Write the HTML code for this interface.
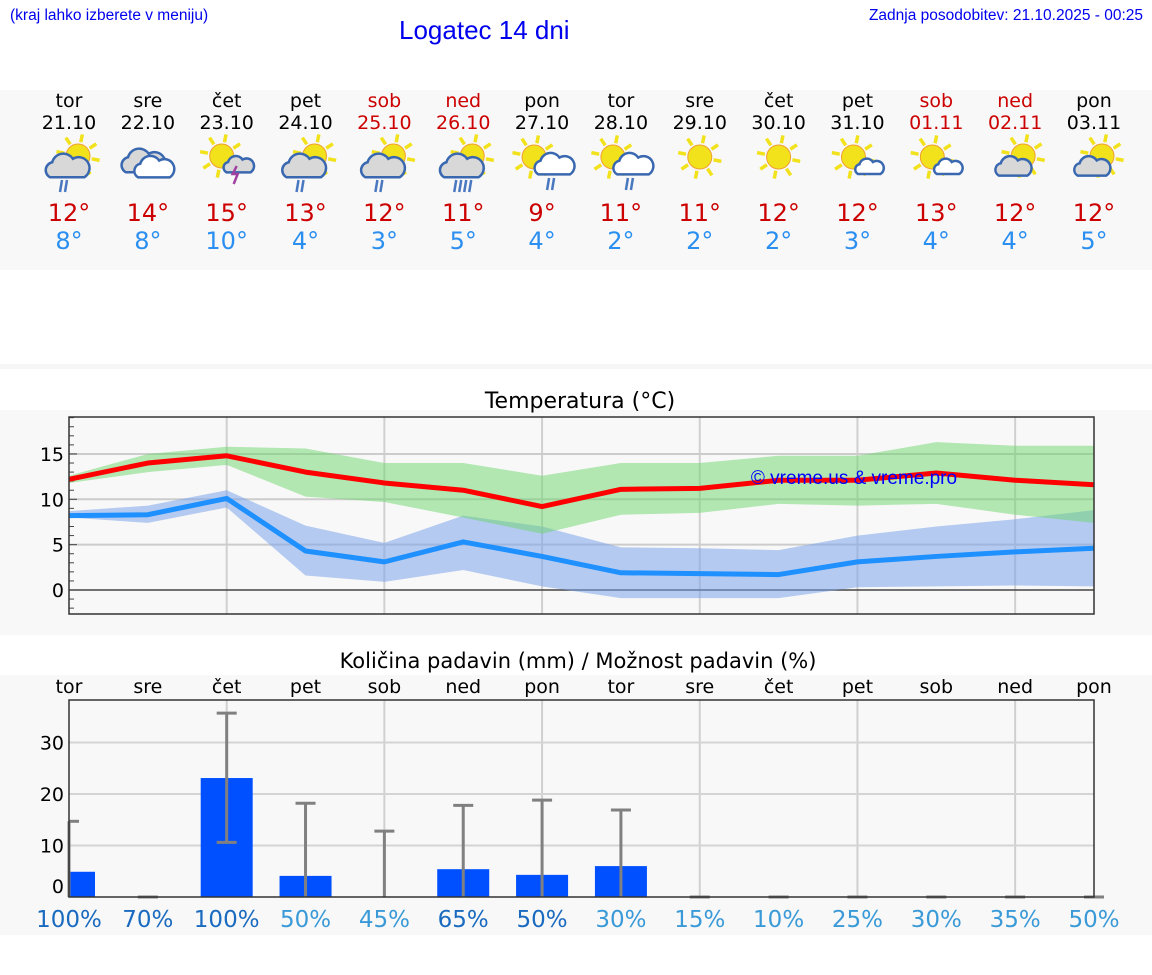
<!DOCTYPE html>
<html><head><meta charset="utf-8"><style>
body{margin:0;width:1152px;height:975px;background:#fff;font-family:"DejaVu Sans","Liberation Sans",sans-serif;overflow:hidden;position:relative}
.t{position:absolute;white-space:nowrap}
</style></head><body>
<div class="t" style="left:10px;top:7px;font-size:15.5px;color:#0000ee;font-family:'Liberation Sans',sans-serif">(kraj lahko izberete v meniju)</div>
<div class="t" style="left:399px;top:15px;font-size:26px;color:#0000ee;font-family:'Liberation Sans',sans-serif">Logatec 14 dni</div>
<div class="t" style="right:9px;top:7px;font-size:15.5px;color:#0000ee;font-family:'Liberation Sans',sans-serif">Zadnja posodobitev: 21.10.2025 - 00:25</div>
<svg id="s" width="1152" height="975" style="position:absolute;left:0;top:0" xmlns="http://www.w3.org/2000/svg" font-family="DejaVu Sans, Liberation Sans, sans-serif">
<rect x="0" y="90" width="1152" height="180" fill="#f8f8f8"/>
<rect x="0" y="364" width="1152" height="5" fill="#f6f6f6"/>
<rect x="0" y="410" width="1152" height="225" fill="#f8f8f8"/>
<rect x="0" y="675" width="1152" height="260" fill="#f8f8f8"/>
<text x="580" y="408" font-size="22" text-anchor="middle" fill="#000">Temperatura (°C)</text>
<text x="578" y="668" font-size="21" text-anchor="middle" fill="#000">Količina padavin (mm) / Možnost padavin (%)</text>
<g id="g"></g>
</svg>
<script>
const days=['tor','sre','čet','pet','sob','ned','pon','tor','sre','čet','pet','sob','ned','pon'];
const dates=['21.10','22.10','23.10','24.10','25.10','26.10','27.10','28.10','29.10','30.10','31.10','01.11','02.11','03.11'];
const weekend=[0,0,0,0,1,1,0,0,0,0,0,1,1,0];
const highs=[12,14,15,13,12,11,9,11,11,12,12,13,12,12];
const lows=[8,8,10,4,3,5,4,2,2,2,3,4,4,5];
const icons=['scr','cc','sl','scr','scr','scr4','swr','swr','s','s','sc','sc','sgc','sgc'];
const tMax=[12.2,14,14.8,13,11.8,11,9.2,11.1,11.2,12.1,12.1,12.9,12.1,11.6];
const tMaxHi=[12.6,15,15.8,15.6,14,14,12.6,14,14,14.8,14.8,16.3,15.9,15.9];
const tMaxLo=[11.8,13,13.8,10.3,9.7,8,6.2,8.3,8.5,9.5,9.3,9.5,8.3,7.4];
const tMin=[8.2,8.3,10.1,4.3,3.1,5.3,3.7,1.9,1.8,1.7,3.1,3.7,4.2,4.6];
const tMinHi=[8.7,9.3,11,7.1,5.2,8.2,7,4.7,4.6,4.4,6,7,7.8,8.8];
const tMinLo=[8,7.4,9.1,1.6,0.9,2.2,0.4,-0.9,-0.9,-0.9,0.3,0.4,0.5,0.4];
const tTicks=[0,5,10,15];
const rain=[4.9,0,23.1,4.1,0,5.4,4.3,6,0,0,0,0,0,0];
const rainLo=[0,0,10.6,0,0,0,0,0,0,0,0,0,0,0];
const rainHi=[14.7,0,35.7,18.2,12.8,17.8,18.8,16.9,0,0,0,0,0,0];
const rainTicks=[0,10,20,30];
const prob=[100,70,100,50,45,65,50,30,15,10,25,30,35,50];
const probDark=[1,1,1,0,0,1,1,0,0,0,0,0,0,0];

const NS='http://www.w3.org/2000/svg',G=document.getElementById('g');
function el(tag,a,p){const e=document.createElementNS(NS,tag);for(const k in a)e.setAttribute(k,a[k]);(p||G).appendChild(e);return e}
const X0=69,X1=1094,step=(X1-X0)/13;
const xs=i=>X0+i*step;
const yT=v=>590-v*9.07;
const yR=v=>897-v*5.15;

function sun(g,cx,cy,r){for(let k=0;k<8;k++){const a=k*Math.PI/4+0.2;el('line',{x1:cx+Math.cos(a)*(r+2),y1:cy+Math.sin(a)*(r+2),x2:cx+Math.cos(a)*(r+10),y2:cy+Math.sin(a)*(r+10),stroke:'#f2e21c','stroke-width':3.5},g)}el('circle',{cx,cy,r,fill:'#f2e21c',stroke:'#f0a030','stroke-width':1},g)}
function cloud(g,cx,cy,s,fill){const d=`M${cx-14*s} ${cy+8*s} a${7*s} ${7*s} 0 0 1 ${2*s} ${-13*s} a${10*s} ${10*s} 0 0 1 ${18*s} ${-3*s} a${8*s} ${8*s} 0 0 1 ${10*s} ${16*s} Z`;el('path',{d,fill,stroke:'#3a68b0','stroke-width':2.5},g)}
function drops(g,cx,cy,n){for(let k=0;k<n;k++)el('line',{x1:cx+k*5+2,y1:cy,x2:cx+k*5,y2:cy+12,stroke:'#4a78c0','stroke-width':2.5},g)}
for(let i=0;i<14;i++){
  const x=xs(i),col=weekend[i]?'#cc0000':'#000';
  const g=el('g',{});
  
  
  el('text',{x,y:107,'font-size':19,'text-anchor':'middle',fill:col},g).textContent=days[i];
  el('text',{x,y:129,'font-size':19,'text-anchor':'middle',fill:col},g).textContent=dates[i];
  const t=icons[i],cy=160;
  if(t==='scr'||t==='scr4'){sun(g,x+9,cy-4,12);cloud(g,x-3,cy+8,1.15,'#d8d8d8');drops(g,x-9,cy+20,t==='scr4'?4:2)}
  else if(t==='cc'){cloud(g,x-6,cy+3,1.15,'#d8d8d8');cloud(g,x+5,cy+9,1.05,'#fff')}
  else if(t==='sl'){sun(g,x-5,cy-4,12);cloud(g,x+11,cy+6,0.8,'#d8d8d8');el('path',{d:`M${x+10} ${cy+6} l-4 8 h5 l-4 10`,fill:'none',stroke:'#a040a0','stroke-width':2.5},g)}
  else if(t==='swr'){sun(g,x-8,cy-3,12);cloud(g,x+11,cy+6,1.05,'#fff');drops(g,x+5,cy+18,2)}
  else if(t==='s'){sun(g,x,cy-3,12)}
  else if(t==='sc'){sun(g,x-4,cy-3,12);cloud(g,x+11,cy+8,0.75,'#fff')}
  else if(t==='sgc'){sun(g,x+8,cy-4,12);cloud(g,x-3,cy+8,0.95,'#d8d8d8')}
  el('text',{x,y:221,'font-size':24,'text-anchor':'middle',fill:'#cc0000'},g).textContent=highs[i]+'°';
  el('text',{x,y:249,'font-size':24,'text-anchor':'middle',fill:'#2a8ff0'},g).textContent=lows[i]+'°';
}

el('rect',{x:X0,y:417,width:X1-X0,height:197,fill:'#f8f8f8'});
for(let i=2;i<14;i+=2)el('line',{x1:xs(i),y1:417,x2:xs(i),y2:614,stroke:'#d0d0d0','stroke-width':2});
tTicks.forEach(v=>{el('line',{x1:X0,y1:yT(v),x2:X1,y2:yT(v),stroke:v===0?'#444':'#ccc','stroke-width':v===0?1.5:2});
  const l=el('text',{x:64,y:yT(v)+7,'font-size':19,'text-anchor':'end',fill:'#000'});l.textContent=v;
  });
for(let v=-2;v<=19;v++)el('line',{x1:X0,y1:yT(v),x2:X0+(v%5===0?8:5),y2:yT(v),stroke:'#444','stroke-width':1});
function band(hi,lo,fill,op,name){const pts=hi.map((v,i)=>xs(i)+','+yT(v)).concat(lo.map((v,i)=>xs(i)+','+yT(v)).reverse());const p=el('polygon',{points:pts.join(' '),fill,'fill-opacity':op});}
band(tMinHi,tMinLo,'#7ba4ea',0.55,'min-temp-band');
band(tMaxHi,tMaxLo,'#6cd66c',0.5,'max-temp-band');
function line(arr,col,name){const p=el('polyline',{points:arr.map((v,i)=>xs(i)+','+yT(v)).join(' '),fill:'none',stroke:col,'stroke-width':5,'stroke-linejoin':'round'});}
line(tMin,'#1e90ff','min-temp-line');
line(tMax,'#ff0000','max-temp-line');
const wm=el('text',{x:854,y:484,'font-size':19,'text-anchor':'middle',fill:'#0000ff','font-family':'Liberation Sans, sans-serif'});wm.textContent='© vreme.us & vreme.pro';

el('rect',{x:X0,y:417,width:X1-X0,height:197,fill:'none',stroke:'#333','stroke-width':1.5});

for(let i=0;i<14;i++){const d=el('text',{x:xs(i),y:693,'font-size':19,'text-anchor':'middle',fill:'#000'});d.textContent=days[i];}
el('rect',{x:X0,y:700,width:X1-X0,height:197,fill:'#f8f8f8'});
for(let i=2;i<14;i+=2)el('line',{x1:xs(i),y1:700,x2:xs(i),y2:897,stroke:'#d0d0d0','stroke-width':2});
rainTicks.forEach(v=>{if(v>0)el('line',{x1:X0,y1:yR(v),x2:X1,y2:yR(v),stroke:'#d4d4d4','stroke-width':2});
  const l=el('text',{x:64,y:yR(v)+(v===0?-4:7),'font-size':19,'text-anchor':'end',fill:'#000'});l.textContent=v;
  });
const bw=52;
for(let i=0;i<14;i++){
  if(rain[i]>0){const x=Math.max(X0,xs(i)-bw/2);const b=el('rect',{x,y:yR(rain[i]),width:xs(i)+bw/2-x,height:yR(0)-yR(rain[i]),fill:'#0050ff'});
    }
  const e=el('g',{stroke:'#808080','stroke-width':3});
  
  el('line',{x1:xs(i),y1:yR(rainLo[i]),x2:xs(i),y2:yR(rainHi[i])},e);
  el('line',{x1:Math.max(X0,xs(i)-10),y1:yR(rainHi[i]),x2:xs(i)+10,y2:yR(rainHi[i])},e);
  if(rainLo[i]>0)el('line',{x1:xs(i)-10,y1:yR(rainLo[i]),x2:xs(i)+10,y2:yR(rainLo[i])},e);
  const p=el('text',{x:xs(i),y:927,'font-size':23,'text-anchor':'middle',fill:probDark[i]?'#1a6ac0':'#3a9ad8'});p.textContent=prob[i]+'%';
  
}
el('rect',{x:X0,y:700,width:X1-X0,height:197,fill:'none',stroke:'#333','stroke-width':1.5});
</script>
</body></html>
